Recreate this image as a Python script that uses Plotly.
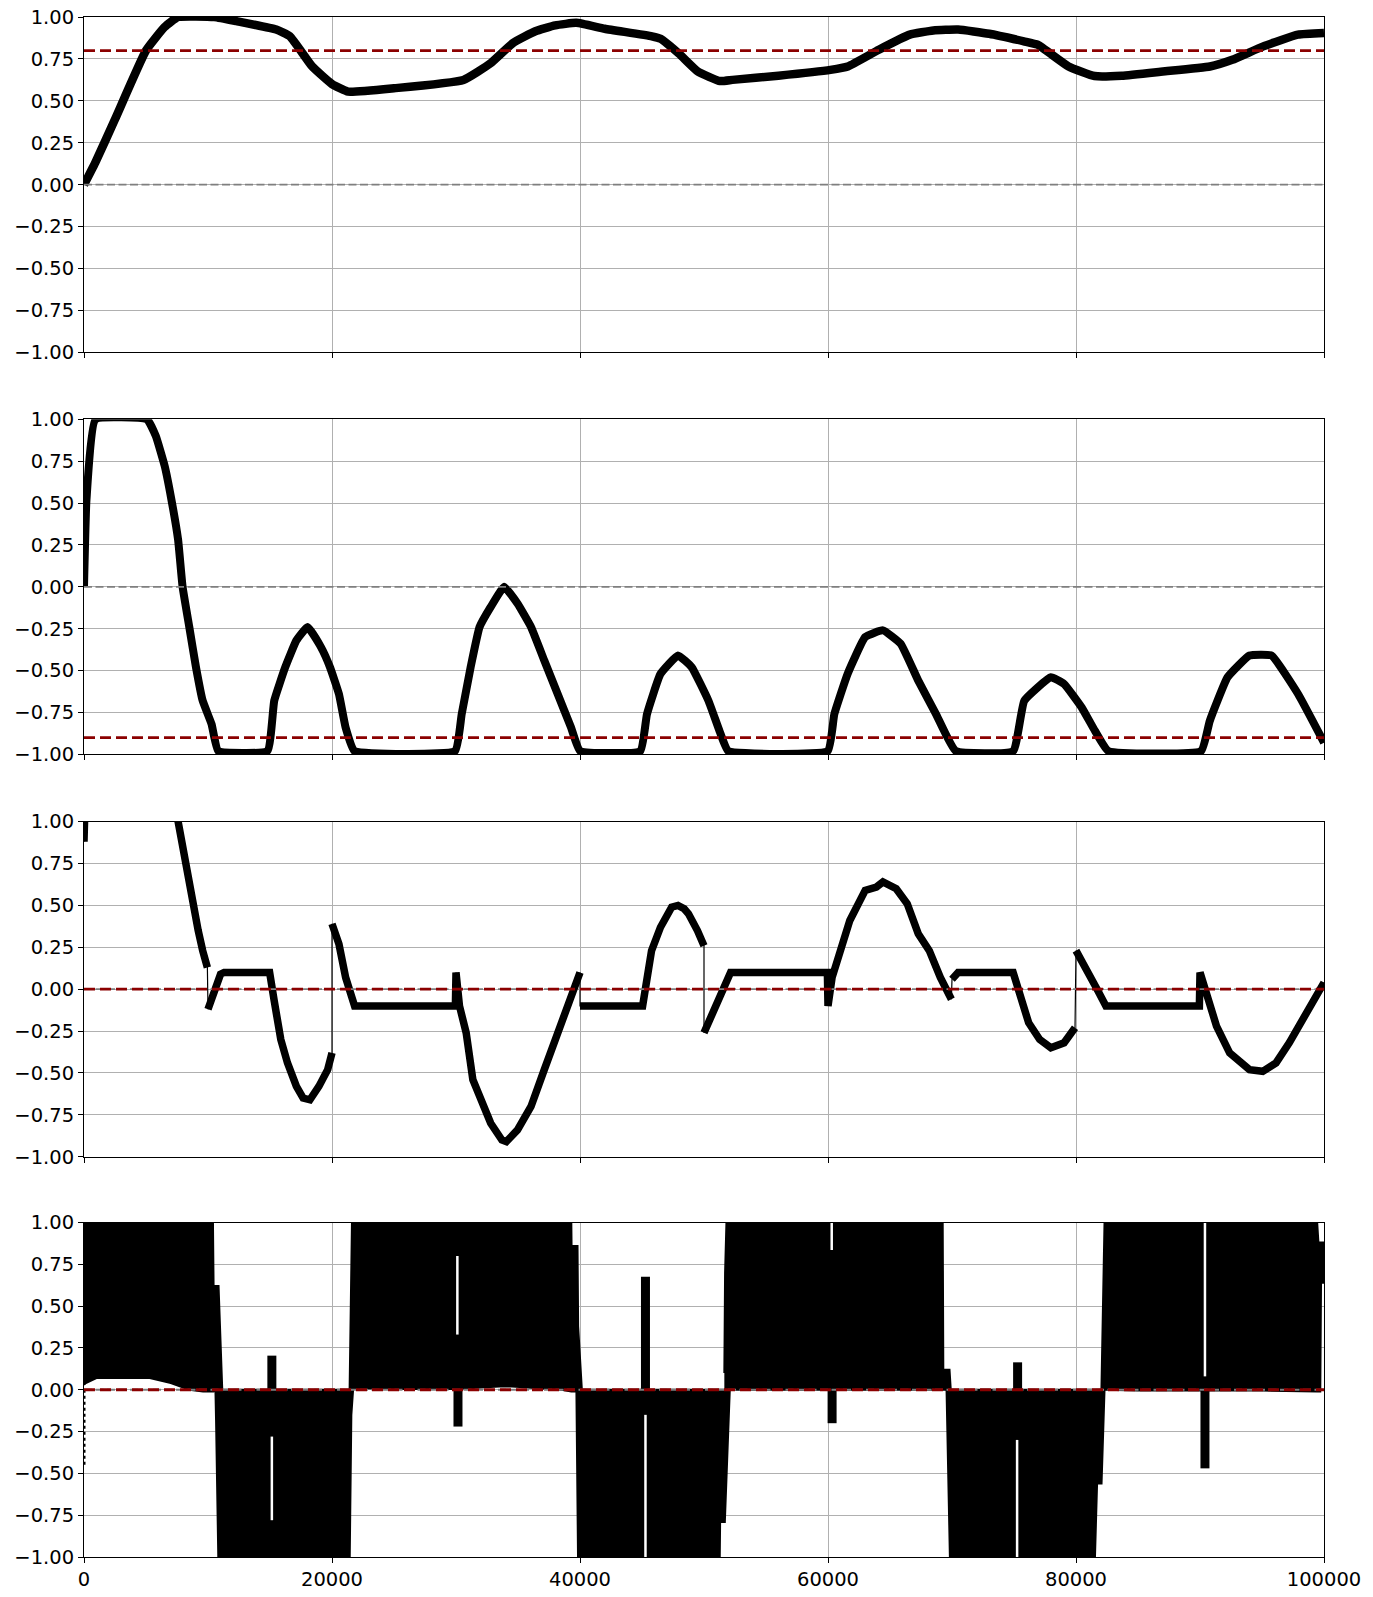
import plotly.graph_objects as go
from plotly.subplots import make_subplots

# ---------------- data ----------------
X_TICKS = [0, 20000, 40000, 60000, 80000, 100000]
Y_TICKS = [-1.0, -0.75, -0.5, -0.25, 0.0, 0.25, 0.5, 0.75, 1.0]

# panel 1
p1_x = [0, 900, 2500, 5000, 6500, 7600, 10500, 12300, 15500, 16600, 18400, 20000, 21300,
        25000, 30600, 32800, 34600, 36400, 38000, 39700, 42000, 45800, 46500, 48000, 49500,
        51300, 52300, 56000, 60200, 61600, 64100, 66600, 68500, 70500, 73000, 75800, 76900,
        79400, 81500, 83700, 87000, 90800, 92600, 95100, 97900, 100000]
p1_y = [0.0, 0.13, 0.39, 0.8, 0.94, 1.0, 1.0, 0.975, 0.925, 0.885, 0.705, 0.6, 0.555,
        0.575, 0.625, 0.725, 0.845, 0.915, 0.95, 0.965, 0.93, 0.885, 0.87, 0.78, 0.675,
        0.618, 0.625, 0.65, 0.685, 0.705, 0.805, 0.895, 0.92, 0.925, 0.9, 0.855, 0.835,
        0.705, 0.648, 0.65, 0.675, 0.705, 0.745, 0.825, 0.895, 0.905]
p1_threshold = 0.8

# panel 2
p2_x = [0, 200, 930, 5070, 5790, 6510, 7050, 7590, 7950, 8490, 9030, 9570, 10290, 10830,
        14790, 15340, 16230, 17130, 18030, 19110, 19840, 20560, 21100, 21820, 29920, 30460,
        31180, 31900, 32800, 33880, 34960, 36050, 37120, 38200, 39280, 40010, 44860, 45400,
        46490, 47900, 49010, 50360, 51250, 51960, 59980, 60510, 61580, 63000, 64430, 65860,
        67280, 68710, 70300, 74930, 75830, 77970, 79040, 80460, 81530, 82600, 90090, 90790,
        92220, 93990, 95770, 97910, 100000]
p2_y = [0.0, 0.52, 1.0, 1.0, 0.9, 0.72, 0.52, 0.28, 0.0, -0.24, -0.48, -0.68, -0.82, -0.98,
        -0.98, -0.68, -0.48, -0.32, -0.24, -0.36, -0.48, -0.64, -0.84, -0.98, -0.98, -0.76,
        -0.48, -0.24, -0.12, 0.0, -0.1, -0.24, -0.44, -0.64, -0.84, -0.98, -0.98, -0.76,
        -0.52, -0.41, -0.48, -0.68, -0.86, -0.98, -0.98, -0.76, -0.52, -0.3, -0.26, -0.34,
        -0.56, -0.76, -0.98, -0.98, -0.68, -0.54, -0.58, -0.72, -0.86, -0.98, -0.98, -0.8,
        -0.54, -0.41, -0.41, -0.64, -0.93]
p2_threshold = -0.9

# panel 3 (piecewise segments; values above 1 are off-scale)
p3_seg_x = [
    [0, 150, 3000, 7000, 7590, 8130, 8670, 9210, 9570, 9950],
    [10000, 10470, 11010, 11300, 14970, 15340, 15870, 16410, 17130, 17670, 18220, 18940, 19650, 20000],
    [20000, 20560, 21100, 21820, 29950, 30000, 30280, 30820, 31360, 32080, 32800, 33700, 34060,
     34960, 36050, 37120, 38200, 39280, 40000],
    [40000, 45050, 45770, 46490, 47390, 47900, 48400, 48750, 49470, 50000],
    [50000, 50890, 51600, 52140, 59950, 60000, 60330, 61040, 61760, 63000, 63900, 64430, 65500,
     66390, 67280, 68170, 69060, 69950],
    [70000, 70490, 74930, 75460, 76180, 77070, 77970, 79040, 79920],
    [80000, 80810, 81700, 82410, 89950, 90000, 90610, 91330, 92390, 93990, 95060, 96130, 97200,
     98620, 100000],
]
p3_seg_y = [
    [0.88, 1.3, 2.0, 1.3, 1.0, 0.77, 0.53, 0.35, 0.23, 0.13],
    [-0.12, -0.03, 0.09, 0.1, 0.1, -0.07, -0.3, -0.44, -0.58, -0.65, -0.66, -0.58, -0.48, -0.38],
    [0.39, 0.27, 0.07, -0.1, -0.1, 0.1, -0.1, -0.26, -0.54, -0.68, -0.8, -0.9, -0.91,
     -0.84, -0.7, -0.48, -0.26, -0.05, 0.1],
    [-0.1, -0.1, 0.23, 0.37, 0.49, 0.5, 0.48, 0.45, 0.35, 0.26],
    [-0.26, -0.1, 0.02, 0.1, 0.1, -0.1, 0.07, 0.23, 0.41, 0.59, 0.61, 0.64, 0.6,
     0.51, 0.33, 0.23, 0.07, -0.06],
    [0.06, 0.1, 0.1, -0.03, -0.2, -0.3, -0.35, -0.32, -0.23],
    [0.23, 0.13, 0.0, -0.1, -0.1, 0.1, -0.05, -0.22, -0.38, -0.48, -0.49, -0.44, -0.32,
     -0.14, 0.04],
]
p3_threshold = 0.0

# panel 4: envelope of the dense oscillation (x, lower, upper) per block
p4_block_x = [
    [0, 150, 1000, 5300, 7000, 8500, 9600, 10400, 10450, 10850, 11150],
    [10600, 10650, 10750, 10830, 21430, 21560, 21700],
    [21420, 21610, 25000, 30000, 33500, 34500, 36500, 38500, 39300, 39320, 39800, 39850, 40150],
    [39710, 39840, 51270, 51300, 51680, 52080],
    [51640, 51700, 51810, 55000, 60000, 65000, 69250, 69300, 69800, 69900],
    [69560, 69830, 81530, 81700, 82060, 82300],
    [82050, 82300, 85000, 90000, 95000, 99450, 99550, 99700, 99760, 100000],
]
p4_block_lo = [
    [0.03, 0.04, 0.07, 0.07, 0.04, 0.0, -0.01, -0.01, -0.01, 0.0, 0.0],
    [0.0, -0.18, -0.5, -1.0, -1.0, -0.15, 0.0],
    [0.0, 0.01, 0.005, 0.005, 0.02, 0.02, 0.01, 0.0, -0.01, -0.01, -0.01, 0.0, 0.0],
    [0.0, -1.0, -1.0, -0.79, -0.79, 0.0],
    [-0.01, 0.0, 0.0, 0.0, 0.0, 0.0, 0.0, 0.0, 0.0, 0.0],
    [0.0, -1.0, -1.0, -0.56, -0.56, 0.0],
    [0.0, 0.0, -0.005, -0.005, -0.005, -0.01, -0.01, -0.01, 0.64, 0.64],
]
p4_block_hi = [
    [1.0, 1.0, 1.0, 1.0, 1.0, 1.0, 1.0, 1.0, 0.62, 0.62, 0.0],
    [0.0, 0.0, 0.0, 0.0, 0.0, 0.0, 0.0],
    [0.0, 1.0, 1.0, 1.0, 1.0, 1.0, 1.0, 1.0, 1.0, 0.86, 0.86, 0.38, 0.0],
    [0.0, 0.0, 0.0, 0.0, 0.0, 0.0],
    [0.1, 0.7, 1.0, 1.0, 1.0, 1.0, 1.0, 0.12, 0.12, 0.0],
    [0.0, 0.0, 0.0, 0.0, 0.0, 0.0],
    [0.0, 1.0, 1.0, 1.0, 1.0, 1.0, 0.88, 0.88, 0.88, 0.88],
]
p4_spike_x = [15150, 30160, 45280, 60330, 75290, 90400]
p4_spike_y = [0.204, -0.22, 0.675, -0.2, 0.164, -0.47]
p4_gap_x = [15150, 30110, 45280, 60300, 75250, 90400]
p4_gap_y0 = [-0.28, 0.33, -0.15, 0.835, -0.3, 0.08]
p4_gap_y1 = [-0.78, 0.8, -1.0, 1.0, -1.0, 1.0]
p4_start_x = [0, 0]
p4_start_y = [0.0, -0.46]
p4_threshold = 0.0

X_RANGE = [0, 100000]
Y_RANGE = [-1, 1]

# ---------------- figure ----------------
fig = make_subplots(rows=4, cols=1, shared_xaxes=True)

BLACK = "black"
RED = "#8b0000"
GRAY = "#7f7f7f"


def ref_lines(row, thr):
    fig.add_trace(go.Scatter(x=X_RANGE, y=[0, 0], mode="lines",
                             line=dict(color=GRAY, width=1.8, dash="8px,3.5px"),
                             hoverinfo="skip"), row=row, col=1)
    fig.add_trace(go.Scatter(x=X_RANGE, y=[thr, thr], mode="lines",
                             line=dict(color=RED, width=2.8, dash="11px,5px"),
                             hoverinfo="skip"), row=row, col=1)


# panel 1
fig.add_trace(go.Scatter(x=p1_x, y=p1_y, mode="lines",
                         line=dict(color=BLACK, width=8.5, shape="spline", smoothing=0.4)), row=1, col=1)
ref_lines(1, p1_threshold)

# panel 2
fig.add_trace(go.Scatter(x=p2_x, y=p2_y, mode="lines",
                         line=dict(color=BLACK, width=8, shape="spline", smoothing=0.35)), row=2, col=1)
ref_lines(2, p2_threshold)

# panel 3
all_x, all_y = [], []
for sx, sy in zip(p3_seg_x, p3_seg_y):
    all_x += sx
    all_y += sy
fig.add_trace(go.Scatter(x=all_x, y=all_y, mode="lines", line=dict(color=BLACK, width=1.2)), row=3, col=1)
for sx, sy in zip(p3_seg_x, p3_seg_y):
    fig.add_trace(go.Scatter(x=sx, y=sy, mode="lines", line=dict(color=BLACK, width=7.5)),
                  row=3, col=1)
ref_lines(3, p3_threshold)

# panel 4
for bx, blo, bhi in zip(p4_block_x, p4_block_lo, p4_block_hi):
    px = list(bx) + list(reversed(bx))
    py = list(bhi) + list(reversed(blo))
    fig.add_trace(go.Scatter(x=px, y=py, mode="lines", fill="toself", fillcolor=BLACK,
                             line=dict(color=BLACK, width=2)), row=4, col=1)
for gx, g0, g1 in zip(p4_gap_x, p4_gap_y0, p4_gap_y1):
    fig.add_trace(go.Scatter(x=[gx, gx], y=[g0, g1], mode="lines",
                             line=dict(color="white", width=2.5)), row=4, col=1)
for sx, sy in zip(p4_spike_x, p4_spike_y):
    fig.add_trace(go.Scatter(x=[sx, sx], y=[0, sy], mode="lines",
                             line=dict(color=BLACK, width=9)), row=4, col=1)
fig.add_trace(go.Scatter(x=p4_start_x, y=p4_start_y, mode="lines",
                         line=dict(color=BLACK, width=3, dash="dot")), row=4, col=1)
ref_lines(4, p4_threshold)

FONT = dict(family="DejaVu Sans", size=19.5, color="black")
axis_common = dict(showline=True, linecolor="black", linewidth=1, mirror=True,
                   ticks="outside", ticklen=5, tickwidth=1, tickcolor="black",
                   showgrid=True, gridcolor="#b0b0b0", gridwidth=1, zeroline=False,
                   automargin=False, tickfont=FONT)

domains = [[0.7822, 1.0], [0.5212, 0.7388], [0.2599, 0.4775], [0.0, 0.2172]]
for i in range(4):
    suffix = "" if i == 0 else str(i + 1)
    fig.layout["yaxis" + suffix].update(domain=domains[i], range=Y_RANGE, tickvals=Y_TICKS,
                                        tickformat=".2f", **axis_common)
    fig.layout["xaxis" + suffix].update(range=X_RANGE, tickvals=X_TICKS, tickformat="d",
                                        showticklabels=(i == 3), **axis_common)

fig.update_layout(width=1373, height=1597, showlegend=False,
                  margin=dict(l=84, r=49, t=17, b=40, autoexpand=False),
                  paper_bgcolor="white", plot_bgcolor="white",
                  font=FONT, hovermode=False)

fig.write_html("out.html", config={"displayModeBar": False},
               post_script="document.body.style.margin='0';")
